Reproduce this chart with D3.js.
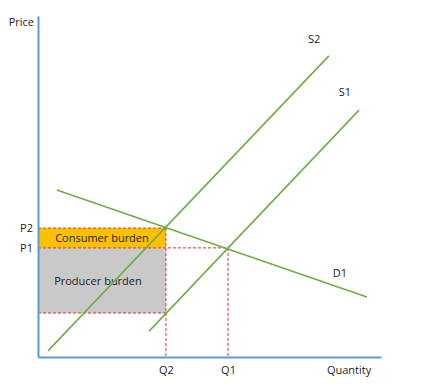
<!DOCTYPE html>
<html>
<head>
<meta charset="utf-8">
<script src="https://cdn.jsdelivr.net/npm/d3@7"></script>
<style>
  body { margin: 0; background: #fff; }
  text { font-family: "Open Sans", "Liberation Sans", sans-serif; fill: #222; }
  .lbl { font-size: 11px; }
  .curve { fill: none; stroke: #70ad47; stroke-width: 1.6; }
  .guide { fill: none; stroke: #e0302a; stroke-width: 1; stroke-dasharray: 3,2; }
</style>
</head>
<body>
<svg width="427" height="392"></svg>
<script>
// prices and quantities, in chart units (0-10)
const priceTicks = ["P1", "P2"];
const priceValues = [3.2, 3.78];
const qtyTicks = ["Q2", "Q1"];
const qtyValues = [3.73, 5.54];
const producerFloor = 1.29;

// curves as [quantity, price] endpoints
const demandD1 = [[0.55, 4.9], [9.59, 1.76]];
const supplyS1 = [[3.24, 0.76], [9.36, 7.24]];
const supplyS2 = [[0.29, 0.18], [8.48, 8.83]];
const curveLabels = ["S2", "S1", "D1"];
const labelAt = [[8.05, 9.2], [8.95, 7.65], [8.8, 2.35]];

const svg = d3.select("svg");
const margin = { left: 38, top: 16, right: 46, bottom: 35 };
const width = +svg.attr("width"), height = +svg.attr("height");
const x = d3.scaleLinear().domain([0, 10]).range([margin.left, width - margin.right]);
const y = d3.scaleLinear().domain([0, 10]).range([height - margin.bottom, margin.top]);

const [P1, P2] = priceValues;
const [Q2, Q1] = qtyValues;

// burden areas
svg.append("rect")
  .attr("x", x(0)).attr("y", y(P2))
  .attr("width", x(Q2) - x(0)).attr("height", y(P1) - y(P2))
  .attr("fill", "#ffc000");
svg.append("rect")
  .attr("x", x(0)).attr("y", y(P1))
  .attr("width", x(Q2) - x(0)).attr("height", y(producerFloor) - y(P1))
  .attr("fill", "#c9c9c9");

svg.append("text").attr("class", "lbl")
  .attr("x", (x(0) + x(Q2)) / 2).attr("y", y((P1 + P2) / 2) + 4)
  .attr("text-anchor", "middle").text("Consumer burden");
svg.append("text").attr("class", "lbl")
  .attr("x", (x(0) + x(Q2)) / 2 - 4).attr("y", y((P1 + producerFloor) / 2) + 5)
  .attr("text-anchor", "middle").text("Producer burden");

// dashed guides
const guides = [
  [[0, P2], [Q2, P2]],
  [[0, P1], [Q1, P1]],
  [[0, producerFloor], [Q2, producerFloor]],
  [[Q2, P2], [Q2, 0]],
  [[Q1, P1], [Q1, 0]],
];
const line = d3.line().x(d => x(d[0])).y(d => y(d[1]));
svg.selectAll(".guide").data(guides).join("path")
  .attr("class", "guide").attr("d", line);

// curves
svg.selectAll(".curve").data([supplyS2, supplyS1, demandD1]).join("path")
  .attr("class", "curve").attr("d", line);
svg.selectAll(".clbl").data(curveLabels).join("text")
  .attr("class", "lbl clbl")
  .attr("x", (d, i) => x(labelAt[i][0]))
  .attr("y", (d, i) => y(labelAt[i][1]))
  .attr("text-anchor", "middle")
  .text(d => d);

// axes
const xAxis = d3.axisBottom(x).tickValues(qtyValues).tickSize(0).tickPadding(9)
  .tickFormat((d, i) => qtyTicks[i]);
const yAxis = d3.axisLeft(y).tickValues(priceValues).tickSize(0).tickPadding(5)
  .tickFormat((d, i) => priceTicks[i]);
const gx = svg.append("g").attr("transform", `translate(0,${y(0)})`).call(xAxis);
const gy = svg.append("g").attr("transform", `translate(${x(0)},0)`).call(yAxis);
[gx, gy].forEach(g => {
  g.select(".domain").attr("stroke", "#5b9bd5").attr("stroke-width", 2);
  g.selectAll("text").attr("font-size", 11).attr("fill", "#222")
    .attr("font-family", "'Open Sans', 'Liberation Sans', sans-serif");
});

svg.append("text").attr("class", "lbl")
  .attr("x", x(0) - 4).attr("y", y(10) + 10)
  .attr("text-anchor", "end").text("Price");
svg.append("text").attr("class", "lbl")
  .attr("x", x(9.07)).attr("y", y(0) + 17)
  .attr("text-anchor", "middle").text("Quantity");
</script>
</body>
</html>
